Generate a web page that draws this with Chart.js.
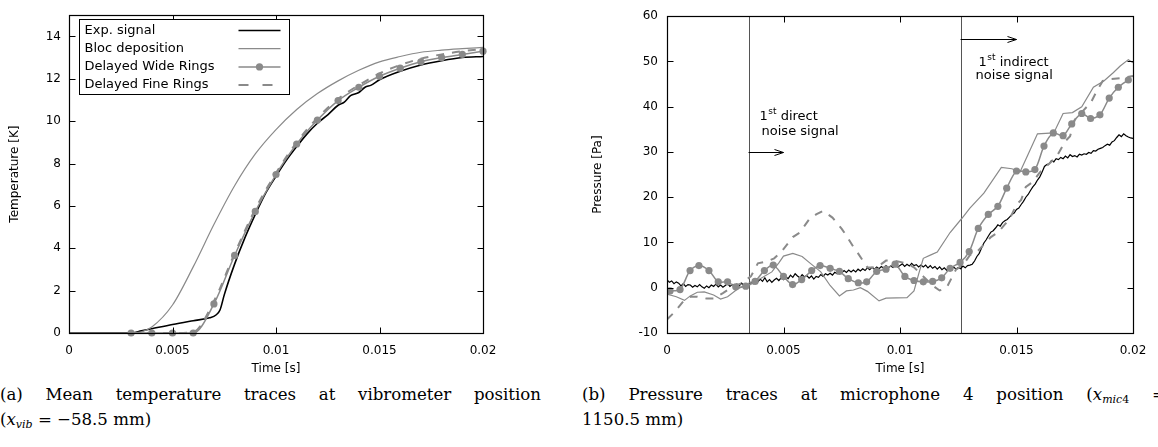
<!DOCTYPE html>
<html>
<head>
<meta charset="utf-8">
<script src="https://cdn.jsdelivr.net/npm/chart.js@4.4.1/dist/chart.umd.min.js"></script>
<style>
  body { margin: 0; background: #fff; width: 1158px; height: 447px; position: relative; overflow: hidden; }
  canvas { position: absolute; top: 0; }
  #tempChart { left: 0; }
  #pressChart { left: 580px; }
  .cap { position: absolute; font-family: "DejaVu Serif", "Liberation Serif", serif; font-size: 16.6px; line-height: 25px; color: #000; }
  .cap .j { text-align: justify; text-align-last: justify; }
  .cap sub { font-size: 11px; line-height: 0; vertical-align: -3px; }
</style>
</head>
<body>
<canvas id="tempChart" width="545" height="380"></canvas>
<canvas id="pressChart" width="578" height="380"></canvas>

<div class="cap" style="left:0;top:382px;width:541px">
  <div class="j">(a) Mean temperature traces at vibrometer position</div>
  <div>(<i>x</i><sub><i>vib</i></sub> = &minus;58.5 mm)</div>
</div>
<div class="cap" style="left:582px;top:382px;width:584px">
  <div class="j">(b) Pressure traces at microphone 4 position (<i>x</i><sub><i>mic</i>4</sub> =</div>
  <div>1150.5 mm)</div>
</div>

<script>
// ---- (a) temperature at vibrometer, time in s, temperature in K
const xTicks = [0, 0.005, 0.01, 0.015, 0.02];
const tempTicks = [0, 2, 4, 6, 8, 10, 12, 14];
const pressTicks = [-10, 0, 10, 20, 30, 40, 50, 60];

const expTempT = [0, 0.001, 0.002, 0.003, 0.0035, 0.004, 0.005, 0.006, 0.0068, 0.0071, 0.0073, 0.0075, 0.008, 0.0085, 0.009, 0.0095, 0.01, 0.0105, 0.011, 0.0115, 0.012, 0.0125, 0.013, 0.0133, 0.0136, 0.014, 0.0143, 0.0146, 0.015, 0.016, 0.017, 0.018, 0.019, 0.02];
const expTempV = [0, 0, 0, 0, 0.1, 0.2, 0.4, 0.58, 0.72, 0.85, 1.1, 1.8, 3.25, 4.5, 5.6, 6.6, 7.4, 8.15, 8.8, 9.4, 9.9, 10.3, 10.75, 10.9, 11.2, 11.35, 11.6, 11.7, 11.95, 12.35, 12.65, 12.85, 13.0, 13.05];

const blocTempT = [0, 0.001, 0.002, 0.003, 0.0035, 0.004, 0.005, 0.006, 0.007, 0.008, 0.009, 0.01, 0.011, 0.012, 0.013, 0.014, 0.015, 0.016, 0.017, 0.018, 0.019, 0.02];
const blocTempV = [0, 0, 0, 0, 0.05, 0.28, 1.32, 3.12, 5.12, 6.95, 8.45, 9.6, 10.55, 11.3, 11.9, 12.4, 12.8, 13.05, 13.25, 13.35, 13.42, 13.48];

const ringsTempT = [0.003, 0.004, 0.005, 0.006, 0.007, 0.008, 0.009, 0.01, 0.011, 0.012, 0.013, 0.014, 0.015, 0.016, 0.017, 0.018, 0.019, 0.02];
const wideTempV = [0, 0, 0, 0, 1.37, 3.66, 5.74, 7.48, 8.92, 10.05, 10.97, 11.6, 12.12, 12.5, 12.8, 13.0, 13.15, 13.3];
const fineTempV = [0, 0, 0, 0.05, 1.5, 3.75, 5.85, 7.55, 9.0, 10.15, 11.05, 11.7, 12.25, 12.65, 12.95, 13.15, 13.3, 13.4];

// ---- (b) pressure at microphone 4, time in ms, pressure in Pa
// experimental signal, one sample every 0.1 ms
const expPressV = [
  1.8, 1.2, 1.5, 0.9, 1.3, 1.0, 0.4, 0.9, 0.3, 0.7,
  0.6, 0.1, 0.5, 0.2, 0.7, 0.2, -0.1, 0.4, 0.0, 0.6,
  0.3, 0.8, 0.2, 0.6, 0.1, 0.5, 0.9, 0.3, 0.7, 0.4,
  0.8, 0.4, 1.0, 0.5, 0.9, 0.6, 1.2, 0.9, 1.5, 1.3,
  1.9, 1.4, 2.2, 1.3, 1.8, 1.2, 1.7, 2.1, 1.6, 2.2,
  1.8, 2.4, 2.0, 2.8, 2.3, 3.1, 2.6, 2.2, 2.9, 2.4,
  2.7, 2.1, 2.6, 1.9, 2.5, 2.3, 2.9, 2.5, 3.1, 2.8,
  3.2, 2.8, 3.4, 3.1, 3.7, 3.3, 3.8, 3.4, 3.9, 3.5,
  3.9, 3.5, 4.1, 3.7, 4.2, 3.8, 4.4, 4.0, 4.5, 4.1,
  4.6, 4.2, 4.7, 4.3, 4.9, 4.4, 4.8, 4.5, 5.1, 4.6,
  4.9, 5.3, 4.7, 5.2, 4.8, 5.4, 4.9, 5.1, 4.6, 5.0,
  4.6, 5.0, 4.4, 4.9, 4.3, 4.7, 4.1, 4.6, 4.0, 4.4,
  3.9, 4.4, 4.0, 4.6, 4.1, 4.5, 4.2, 4.8, 4.4, 4.9,
  5.0, 5.2, 5.9, 6.9, 7.6, 8.8, 9.9, 10.6, 11.5, 12.3,
  12.6, 13.2, 13.9, 13.6, 14.4, 14.8, 15.1, 15.6, 16.2, 16.5,
  17.3, 17.6, 18.4, 19.1, 20.0, 20.6, 21.5, 22.3, 22.9, 23.8,
  24.5, 25.6, 26.8, 27.2, 27.4, 28.1, 27.8, 28.5, 28.3, 28.8,
  28.5, 29.1, 28.7, 29.4, 29.0, 29.2, 28.9, 29.5, 29.3, 29.6,
  29.5, 29.9, 29.7, 30.3, 30.2, 30.6, 30.8, 31.0, 31.4, 31.7,
  31.5, 32.2, 32.5, 33.2, 33.8, 33.4, 34.0, 33.6, 33.3, 33.1,
  33.0
];

const blocPressMs = [0, 0.4, 0.75, 1.0, 1.3, 1.6, 2.0, 2.3, 2.6, 3.0, 3.5, 4.0, 4.5, 4.8, 5.0, 5.4, 5.8, 6.1, 6.6, 7.0, 7.4, 7.7, 8.0, 8.3, 8.6, 9.1, 9.4, 10.3, 10.6, 10.8, 11.0, 11.3, 11.6, 12.15, 12.65, 13.0, 13.6, 14.35, 14.8, 15.15, 15.5, 15.9, 16.6, 17.0, 17.4, 17.8, 18.3, 18.75, 19.15, 19.45, 19.8, 20];
const blocPressV = [-1.4, -2.0, -2.8, -1.8, -1.0, -0.9, -1.6, -2.5, -2.0, -0.4, 1.0, 2.0, 3.5, 5.5, 7.0, 7.6, 6.9, 5.6, 3.5, 0.5, -1.8, -0.7, -0.5, 0, -0.8, -2.9, -2.3, -2.2, -0.7, 3.0, 6.5, 7.2, 7.9, 12.2, 15.3, 17.6, 20.9, 26.6, 26.3, 25.6, 29.5, 34.0, 34.2, 38.5, 38.7, 40.0, 44.3, 45.7, 47.5, 49.0, 50.4, 49.7];

const widePressMs = [0.13, 0.56, 0.99, 1.37, 1.8, 2.2, 2.6, 2.95, 3.38, 3.78, 4.18, 4.56, 5.0, 5.39, 5.78, 6.21, 6.57, 7.0, 7.4, 7.78, 8.21, 8.57, 9.0, 9.4, 9.79, 10.21, 10.6, 11.0, 11.4, 11.79, 12.15, 12.58, 12.97, 13.36, 13.79, 14.2, 14.58, 15.0, 15.4, 15.79, 16.18, 16.58, 17.0, 17.37, 17.8, 18.18, 18.58, 18.98, 19.37, 19.8];
const widePressV = [-0.7, -0.4, 3.8, 4.9, 3.8, 1.3, 1.3, 0.2, 0.35, 1.4, 3.8, 5.0, 2.5, 0.7, 1.8, 3.8, 4.9, 4.3, 3.6, 2.0, 1.1, 1.3, 3.6, 4.1, 5.2, 2.5, 1.6, 1.3, 1.4, 2.2, 4.3, 5.6, 8.0, 13.1, 16.2, 18.0, 22.0, 25.8, 25.6, 26.1, 31.3, 34.2, 33.6, 36.2, 38.5, 37.4, 38.2, 41.9, 44.3, 45.9];

const finePressMs = [0, 0.3, 0.7, 1.0, 1.3, 1.7, 2.0, 2.4, 2.8, 3.2, 3.6, 3.9, 4.3, 4.6, 4.9, 5.4, 5.7, 6.1, 6.4, 6.7, 7.1, 7.5, 7.7, 8.0, 8.2, 8.6, 9.0, 9.4, 9.7, 10.3, 10.6, 11.0, 11.4, 11.7, 12.0, 12.4, 12.7, 13.0, 13.3, 13.9, 14.2, 14.5, 14.7, 15.0, 15.2, 15.4, 15.7, 16.0, 16.4, 16.7, 17.1, 17.3, 17.5, 17.7, 18.2, 18.4, 18.7, 19.0, 19.5, 20];
const finePressV = [-7.0, -5.5, -3.0, -2.0, -2.0, -2.4, -2.4, -1.2, 0.2, 1.0, 2.5, 5.4, 5.8, 6.5, 7.9, 11.2, 12.2, 15.1, 16.2, 17.0, 15.5, 13.0, 11.5, 9.0, 7.6, 4.5, 4.5, 6.0, 6.0, 5.4, 4.5, 2.5, 0.5, -0.6, 0.0, 4.0, 5.0, 7.2, 7.9, 11.2, 12.2, 14.0, 15.1, 18.4, 19.4, 22.3, 23.4, 25.5, 27.4, 28.8, 32.4, 33.5, 37.1, 38.2, 41.0, 43.0, 45.7, 46.1, 46.3, 46.8];

// noise signal markers (s, Pa)
const directLineT = 0.0035;
const indirectLineT = 0.0126;
const directArrow = { x0: 0.0035, x1: 0.005, y: 30 };
const indirectArrow = { x0: 0.0126, x1: 0.015, y: 55 };

const BLACK = '#000';
const GREY = '#8a8a8a';
const FONT = '"DejaVu Sans", "Liberation Sans", sans-serif';

Chart.defaults.font.family = FONT;
Chart.defaults.font.size = 12;
Chart.defaults.color = '#000';

function pts(ts, vs, k) {
  return ts.map((t, i) => ({ x: t * k, y: vs[i] }));
}

function line(label, data, color, width, extra) {
  return Object.assign({
    label: label,
    data: data,
    borderColor: color,
    backgroundColor: color,
    borderWidth: width,
    pointRadius: 0,
    tension: 0,
    fill: false,
  }, extra || {});
}

function axes(yMin, yMax, yTicks, yTitle, yWidth, yTitlePad, yTickPad) {
  return {
    x: {
      type: 'linear', min: 0, max: 0.02,
      afterBuildTicks: (s) => { s.ticks = xTicks.map((v) => ({ value: v })); },
      afterFit: (s) => { s.height = 47; },
      ticks: { callback: (v) => String(v), padding: 11, maxRotation: 0, autoSkip: false },
      grid: { display: false, drawTicks: false },
      border: { display: false },
      title: { display: true, text: 'Time [s]', padding: { top: 0, bottom: 4 } },
    },
    y: {
      type: 'linear', min: yMin, max: yMax,
      afterBuildTicks: (s) => { s.ticks = yTicks.map((v) => ({ value: v })); },
      afterFit: (s) => { s.width = yWidth; },
      ticks: { padding: yTickPad, autoSkip: false },
      grid: { display: false, drawTicks: false },
      border: { display: false },
      title: { display: true, text: yTitle, padding: { top: yTitlePad, bottom: 0 } },
    },
  };
}

// gnuplot style frame with inward ticks on all four sides
const framePlugin = {
  id: 'frame',
  afterDraw(chart) {
    const { ctx, chartArea: a, scales } = chart;
    const L = Math.round(a.left) + 0.5, R = Math.round(a.right) + 0.5;
    const T = Math.round(a.top) + 0.5, B = Math.round(a.bottom) + 0.5;
    ctx.save();
    ctx.strokeStyle = BLACK;
    ctx.lineWidth = 1;
    ctx.beginPath();
    scales.x.ticks.forEach((t) => {
      const px = Math.round(scales.x.getPixelForValue(t.value)) + 0.5;
      ctx.moveTo(px, B); ctx.lineTo(px, B - 6);
      ctx.moveTo(px, T); ctx.lineTo(px, T + 6);
    });
    scales.y.ticks.forEach((t) => {
      const py = Math.round(scales.y.getPixelForValue(t.value)) + 0.5;
      ctx.moveTo(L, py); ctx.lineTo(L + 6, py);
      ctx.moveTo(R, py); ctx.lineTo(R - 6, py);
    });
    ctx.stroke();
    ctx.lineWidth = 1.2;
    ctx.strokeRect(L, T, R - L, B - T);
    ctx.restore();
  },
};

const legendPlugin = {
  id: 'boxLegend',
  afterDraw(chart) {
    const { ctx, chartArea: a } = chart;
    const bx = Math.round(a.left) + 10.5, by = Math.round(a.top) + 4.5;
    const bw = 210, bh = 75;
    const rows = [
      { text: 'Exp. signal', color: BLACK, width: 1.6 },
      { text: 'Bloc deposition', color: GREY, width: 1.2 },
      { text: 'Delayed Wide Rings', color: GREY, width: 1.5, dot: true },
      { text: 'Delayed Fine Rings', color: GREY, width: 2, dash: [10, 14] },
    ];
    ctx.save();
    ctx.fillStyle = '#fff';
    ctx.fillRect(bx, by, bw, bh);
    ctx.strokeStyle = BLACK;
    ctx.lineWidth = 1;
    ctx.strokeRect(bx, by, bw, bh);
    ctx.font = '13px ' + FONT;
    ctx.textBaseline = 'middle';
    rows.forEach((r, i) => {
      const y = by + 11 + i * 18.2;
      ctx.fillStyle = BLACK;
      ctx.fillText(r.text, bx + 5, y);
      ctx.strokeStyle = r.color;
      ctx.lineWidth = r.width;
      ctx.setLineDash(r.dash || []);
      ctx.beginPath();
      ctx.moveTo(bx + 159, y);
      ctx.lineTo(bx + 201, y);
      ctx.stroke();
      ctx.setLineDash([]);
      if (r.dot) {
        ctx.fillStyle = r.color;
        ctx.beginPath();
        ctx.arc(bx + 180, y, 3.6, 0, Math.PI * 2);
        ctx.fill();
      }
    });
    ctx.restore();
  },
};

function arrow(ctx, x0, x1, y) {
  ctx.beginPath();
  ctx.moveTo(x0, y); ctx.lineTo(x1, y);
  ctx.moveTo(x1 - 9, y - 3); ctx.lineTo(x1, y); ctx.lineTo(x1 - 9, y + 3);
  ctx.stroke();
}

function noteText(ctx, x, y, word) {
  ctx.font = '13px ' + FONT;
  ctx.fillText('1', x, y);
  const w1 = ctx.measureText('1').width;
  ctx.font = '9px ' + FONT;
  ctx.fillText('st', x + w1 + 0.5, y - 5);
  const w2 = ctx.measureText('st').width;
  ctx.font = '13px ' + FONT;
  ctx.fillText(' ' + word, x + w1 + w2 + 0.5, y);
}

const notesPlugin = {
  id: 'notes',
  beforeDatasetsDraw(chart) {
    const { ctx, chartArea: a, scales: { x } } = chart;
    ctx.save();
    ctx.strokeStyle = '#555';
    ctx.lineWidth = 1;
    [directLineT, indirectLineT].forEach((t) => {
      const px = Math.round(x.getPixelForValue(t)) + 0.5;
      ctx.beginPath();
      ctx.moveTo(px, a.top); ctx.lineTo(px, a.bottom);
      ctx.stroke();
    });
    ctx.restore();
  },
  afterDraw(chart) {
    const { ctx, scales: { x, y } } = chart;
    ctx.save();
    ctx.strokeStyle = BLACK;
    ctx.lineWidth = 1;
    [directArrow, indirectArrow].forEach((ar) => {
      arrow(ctx, x.getPixelForValue(ar.x0), x.getPixelForValue(ar.x1), Math.round(y.getPixelForValue(ar.y)) + 0.5);
    });
    ctx.fillStyle = BLACK;
    ctx.textBaseline = 'middle';
    noteText(ctx, x.getPixelForValue(directLineT) + 11, y.getPixelForValue(37.8), 'direct');
    ctx.font = '13px ' + FONT;
    ctx.fillText('noise signal', x.getPixelForValue(directLineT) + 13, y.getPixelForValue(34.6));
    noteText(ctx, x.getPixelForValue(indirectLineT) + 18, y.getPixelForValue(49.8), 'indirect');
    ctx.font = '13px ' + FONT;
    ctx.fillText('noise signal', x.getPixelForValue(indirectLineT) + 15, y.getPixelForValue(46.8));
    ctx.restore();
  },
};

const common = {
  responsive: false,
  animation: false,
  devicePixelRatio: 1,
  events: [],
  plugins: { legend: { display: false }, tooltip: { enabled: false } },
};

new Chart(document.getElementById('tempChart'), {
  type: 'line',
  data: {
    datasets: [
      line('Delayed Fine Rings', pts(ringsTempT, fineTempV, 1), GREY, 2, { borderDash: [8, 8], cubicInterpolationMode: 'monotone' }),
      line('Bloc deposition', pts(blocTempT, blocTempV, 1), GREY, 1.2, { cubicInterpolationMode: 'monotone' }),
      line('Delayed Wide Rings', pts(ringsTempT, wideTempV, 1), GREY, 1.5, { pointRadius: 3.6, pointBorderWidth: 0, cubicInterpolationMode: 'monotone', clip: false }),
      line('Exp. signal', pts(expTempT, expTempV, 1), BLACK, 1.6, { cubicInterpolationMode: 'monotone' }),
    ],
  },
  options: Object.assign({}, common, {
    layout: { padding: { top: 8, right: 62, left: 0, bottom: 0 } },
    scales: axes(0, 15, tempTicks, 'Temperature [K]', 69, 8, 8),
  }),
  plugins: [framePlugin, legendPlugin],
});

new Chart(document.getElementById('pressChart'), {
  type: 'line',
  data: {
    datasets: [
      line('Delayed Fine Rings', pts(finePressMs, finePressV, 0.001), GREY, 2, { borderDash: [8, 8] }),
      line('Bloc deposition', pts(blocPressMs, blocPressV, 0.001), GREY, 1.2),
      line('Delayed Wide Rings', pts(widePressMs, widePressV, 0.001), GREY, 1.5, { pointRadius: 3.6, pointBorderWidth: 0, tension: 0.3 }),
      line('Exp. signal', expPressV.map((v, i) => ({ x: i / 10000, y: v })), BLACK, 1.2),
    ],
  },
  options: Object.assign({}, common, {
    layout: { padding: { top: 9, right: 25, left: 0, bottom: 0 } },
    scales: axes(-10, 60, pressTicks, 'Pressure [Pa]', 87, 11, 9),
  }),
  plugins: [framePlugin, notesPlugin],
});
</script>
</body>
</html>
